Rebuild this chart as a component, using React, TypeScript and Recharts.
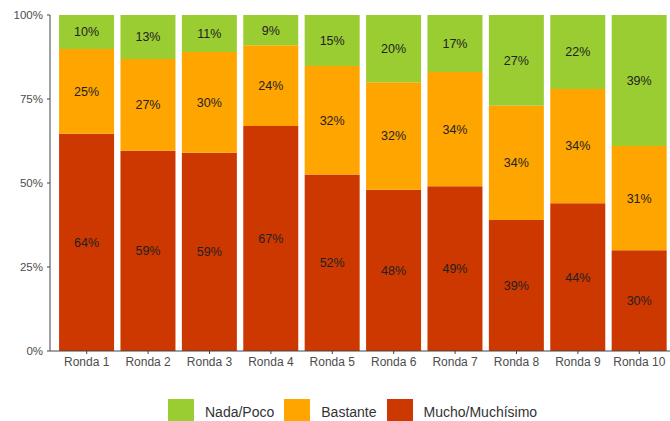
import React from 'react'
import { BarChart, Bar, XAxis, YAxis, Legend, LabelList } from 'recharts'

// Encuesta por rondas, % de respuestas
const rondas = ['Ronda 1', 'Ronda 2', 'Ronda 3', 'Ronda 4', 'Ronda 5', 'Ronda 6', 'Ronda 7', 'Ronda 8', 'Ronda 9', 'Ronda 10']
const mucho = [64, 59, 59, 67, 52, 48, 49, 39, 44, 30]
const bastante = [25, 27, 30, 24, 32, 32, 34, 34, 34, 31]
const nada = [10, 13, 11, 9, 15, 20, 17, 27, 22, 39]
const yTicks = [0, 0.25, 0.5, 0.75, 1]

const series = [
  { key: 'nada', label: 'Nada/Poco', color: '#9ACD32' },
  { key: 'bastante', label: 'Bastante', color: '#FFA500' },
  { key: 'mucho', label: 'Mucho/Muchísimo', color: '#CD3700' },
]

const data = rondas.map((name, i) => ({
  name,
  mucho: mucho[i],
  bastante: bastante[i],
  nada: nada[i],
}))

const font = 'Arial, "Liberation Sans", sans-serif'

function LegendBox() {
  return (
    <div style={{ display: 'flex', alignItems: 'center', height: 26, fontFamily: font, fontSize: 14, color: '#333' }}>
      {series.map((s, i) => (
        <div key={s.key} style={{ display: 'flex', alignItems: 'center', marginLeft: i === 0 ? 168 : 10 }}>
          <div style={{ width: 26, height: 26, background: s.color }} />
          <span style={{ marginLeft: 11 }}>{s.label}</span>
        </div>
      ))}
    </div>
  )
}

export default function App() {
  const stackOrder = [...series].reverse()
  return (
    <div style={{ position: 'absolute', left: 0, top: 0, width: 670, height: 421, overflow: 'hidden', background: '#fff' }}>
      <BarChart
        width={680}
        height={421}
        data={data}
        stackOffset="expand"
        barCategoryGap="5%"
        margin={{ top: 15, right: 4, left: 0, bottom: 19 }}
      >
        <XAxis
          dataKey="name"
          padding={{ left: 6, right: 6 }}
          tickLine={{ stroke: '#444' }}
          axisLine={{ stroke: '#444' }}
          tickSize={3}
          tickMargin={3}
          height={25}
          tick={{ fill: '#4D4D4D', fontSize: 12, fontFamily: font }}
        />
        <YAxis
          width={50}
          domain={[0, 1]}
          ticks={yTicks}
          tickFormatter={(v: number) => `${Math.round(v * 100)}%`}
          tickLine={{ stroke: '#444' }}
          axisLine={{ stroke: '#444' }}
          tickSize={3}
          tickMargin={4}
          tick={{ fill: '#4D4D4D', fontSize: 11.5, fontFamily: font }}
        />
        <Legend
          verticalAlign="bottom"
          wrapperStyle={{ left: 0, top: 399, width: 680, height: 26 }}
          content={() => <LegendBox />}
        />
        {stackOrder.map((s) => (
          <Bar key={s.key} dataKey={s.key} name={s.label} stackId="a" fill={s.color} isAnimationActive={false}>
            <LabelList
              dataKey={s.key}
              position="center"
              formatter={(v: any) => `${v}%`}
              style={{ fill: '#222', fontSize: 12.5, fontFamily: font }}
            />
          </Bar>
        ))}
      </BarChart>
    </div>
  )
}
